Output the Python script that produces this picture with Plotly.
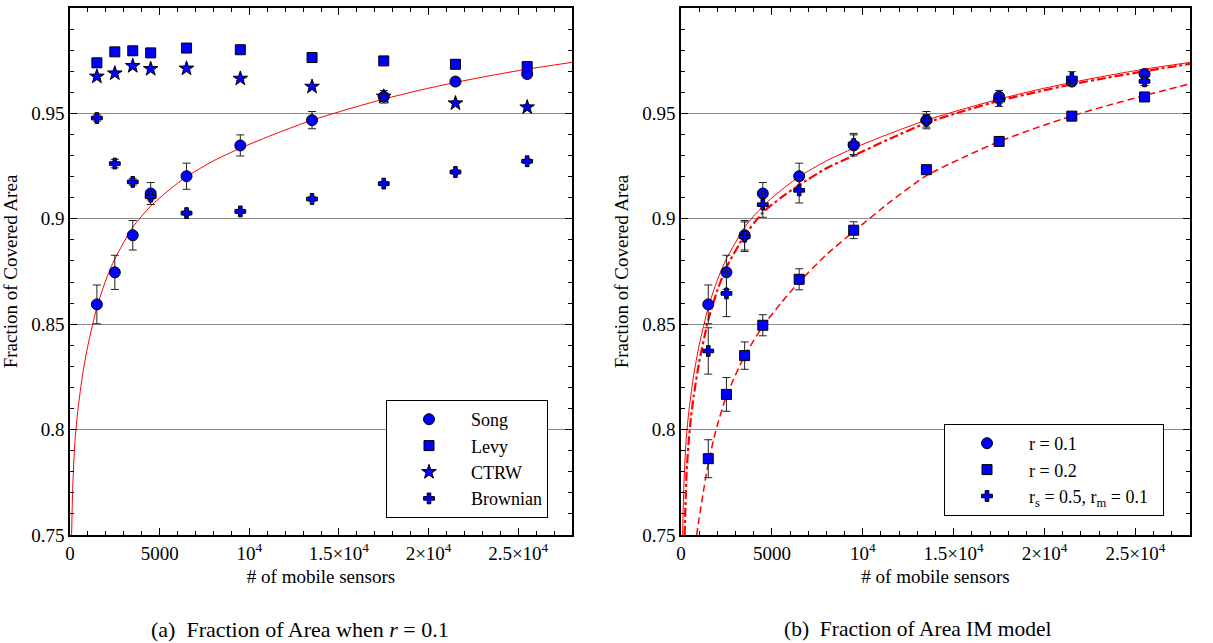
import plotly.graph_objects as go

# ---------------- data ----------------
sensors = [1500, 2500, 3500, 4500, 6500, 9500, 13500, 17500, 21500, 25500]

# panel (a)
song = [0.8594, 0.8746, 0.8922, 0.9120, 0.9202, 0.9348, 0.9468, 0.9579, 0.9651, 0.9687]
song_err = [0.0092, 0.0081, 0.0070, 0.0052, 0.0062, 0.0050, 0.0041, 0.0030, 0.0018, 0.0020]
levy = [0.9740, 0.9792, 0.9797, 0.9787, 0.9810, 0.9802, 0.9765, 0.9749, 0.9733, 0.9722]
levy_err = [0.0010, 0.0008, 0.0008, 0.0008, 0.0008, 0.0008, 0.0008, 0.0008, 0.0008, 0.0010]
ctrw = [0.9675, 0.9690, 0.9725, 0.9711, 0.9713, 0.9665, 0.9627, 0.9580, 0.9548, 0.9529]
ctrw_err = [0.0010, 0.0010, 0.0010, 0.0010, 0.0010, 0.0010, 0.0010, 0.0010, 0.0010, 0.0010]
brown = [0.9478, 0.9262, 0.9175, 0.9105, 0.9027, 0.9035, 0.9094, 0.9167, 0.9222, 0.9273]
brown_err = [0.0015, 0.0020, 0.0015, 0.0015, 0.0010, 0.0010, 0.0010, 0.0010, 0.0010, 0.0010]

# panel (b)
r01 = [0.8594, 0.8746, 0.8922, 0.9120, 0.9202, 0.9348, 0.9468, 0.9579, 0.9651, 0.9687]
r01_err = [0.0092, 0.0081, 0.0070, 0.0052, 0.0062, 0.0050, 0.0041, 0.0030, 0.0018, 0.0020]
r02 = [0.7862, 0.8167, 0.8351, 0.8495, 0.8713, 0.8946, 0.9233, 0.9367, 0.9487, 0.9578]
r02_err = [0.0090, 0.0080, 0.0065, 0.0050, 0.0050, 0.0040, 0.0020, 0.0012, 0.0010, 0.0010]
rsm = [0.8373, 0.8646, 0.8915, 0.9067, 0.9135, 0.9355, 0.9465, 0.9563, 0.9668, 0.9652]
rsm_err = [0.0110, 0.0110, 0.0070, 0.0060, 0.0060, 0.0050, 0.0030, 0.0030, 0.0030, 0.0020]

# model curves, points
fit_x = [90, 150, 280, 450, 700, 1000, 1500, 2000, 2500, 3500, 4500, 5500, 6500,
         8000, 9500, 11500, 13500, 15500, 17500, 19500, 21500, 23500, 25500, 28000]
fit_y = [0.750, 0.772, 0.795, 0.810, 0.826, 0.840, 0.858, 0.871, 0.881, 0.896, 0.906, 0.9135, 0.920,
         0.9275, 0.9335, 0.9405, 0.9468, 0.952, 0.9568, 0.961, 0.9647, 0.968, 0.971, 0.9742]

dd_x = [200, 300, 400, 550, 700, 1000, 1500, 2000, 2500, 3500, 4500, 5500, 6500,
        8000, 9500, 11500, 13500, 15500, 17500, 19500, 21500, 23500, 25500, 28000]
dd_y = [0.750, 0.778, 0.792, 0.806, 0.816, 0.832, 0.852, 0.866, 0.877, 0.892, 0.903, 0.910, 0.916,
        0.924, 0.930, 0.938, 0.9455, 0.951, 0.956, 0.960, 0.9638, 0.967, 0.970, 0.9735]

ds_x = [860, 1000, 1200, 1500, 1900, 2500, 3500, 4500, 5500, 6500, 8000, 9500,
        11500, 13500, 15500, 17500, 19500, 21500, 23500, 25500, 28000]
ds_y = [0.750, 0.758, 0.769, 0.784, 0.799, 0.816, 0.835, 0.849, 0.860, 0.870, 0.883, 0.894,
        0.908, 0.9205, 0.929, 0.9367, 0.943, 0.9488, 0.9538, 0.9585, 0.964]

x_tickvals = [0, 5000, 10000, 15000, 20000, 25000]
x_ticktext = ["0", "5000", "10<sup>4</sup>", "1.5×10<sup>4</sup>", "2×10<sup>4</sup>", "2.5×10<sup>4</sup>"]
y_tickvals = [0.75, 0.8, 0.85, 0.9, 0.95, 1.0]
y_ticktext = ["0.75", "0.8", "0.85", "0.9", "0.95", "1"]

legend_a = ["Song", "Levy", "CTRW", "Brownian"]
legend_b = ["r = 0.1", "r = 0.2", "r<sub>s</sub> = 0.5, r<sub>m</sub> = 0.1"]

# ---------------- styling ----------------
FONT = "Liberation Serif"
BLUE = "#0000ff"
W, H = 1213, 643
left_dom = [70 / W, 572 / W]
right_dom = [681 / W, 1190 / W]
y_dom = [(H - 535) / H, (H - 8) / H]
PAD = "\u00a0" * 2


def pts(x, y, err, name, symbol, size, xa, ya, legend):
    return go.Scatter(
        x=x, y=y, mode="markers", name=name, legend=legend,
        xaxis=xa, yaxis=ya,
        marker=dict(symbol=symbol, size=size, color=BLUE,
                    line=dict(color="black", width=1)),
        error_y=dict(type="data", array=err, visible=True, color="#222222",
                     thickness=1, width=4),
    )


def curve(x, y, dash, width, xa, ya):
    return go.Scatter(x=x, y=y, mode="lines", showlegend=False, hoverinfo="skip",
                      line=dict(color="#ff0000", width=width, dash=dash, shape="spline",
                                smoothing=0.6),
                      xaxis=xa, yaxis=ya)


fig = go.Figure()
# panel (a)
fig.add_trace(curve(fit_x, fit_y, "solid", 1, "x", "y"))
fig.add_trace(pts(sensors, song, song_err, legend_a[0], "circle", 11, "x", "y", "legend"))
fig.add_trace(pts(sensors, levy, levy_err, legend_a[1], "square", 10, "x", "y", "legend"))
fig.add_trace(pts(sensors, ctrw, ctrw_err, legend_a[2], "star", 11, "x", "y", "legend"))
fig.add_trace(pts(sensors, brown, brown_err, legend_a[3], "cross", 9, "x", "y", "legend"))
# panel (b)
fig.add_trace(curve(fit_x, fit_y, "solid", 1, "x2", "y2"))
fig.add_trace(curve(dd_x, dd_y, "dashdot", 2.2, "x2", "y2"))
fig.add_trace(curve(ds_x, ds_y, "7px,4px", 1.5, "x2", "y2"))
fig.add_trace(pts(sensors, r01, r01_err, legend_b[0], "circle", 11, "x2", "y2", "legend2"))
fig.add_trace(pts(sensors, r02, r02_err, legend_b[1], "square", 10, "x2", "y2", "legend2"))
fig.add_trace(pts(sensors, rsm, rsm_err, legend_b[2] + PAD, "cross", 9,
                  "x2", "y2", "legend2"))

tickfont = dict(family=FONT, size=19, color="black")
titlefont = dict(family=FONT, size=19, color="black")


def xaxis(domain, anchor):
    return dict(domain=domain, anchor=anchor, range=[0, 28000], automargin=False,
                tickmode="array", tickvals=x_tickvals, ticktext=x_ticktext,
                ticks="inside", ticklen=7, tickwidth=1, tickcolor="black",
                minor=dict(tickmode="linear", tick0=0, dtick=1000, ticks="inside",
                           ticklen=4, tickwidth=1, tickcolor="black", showgrid=False),
                showline=True, linecolor="black", linewidth=1.5, mirror="ticks",
                showgrid=False, zeroline=False, tickfont=tickfont,
                title=dict(text="# of mobile sensors", font=titlefont, standoff=7))


def yaxis(anchor):
    return dict(domain=y_dom, anchor=anchor, range=[0.75, 1.0], automargin=False,
                tickmode="array", tickvals=y_tickvals, ticktext=y_ticktext,
                ticks="inside", ticklen=7, tickwidth=1, tickcolor="black",
                minor=dict(tickmode="linear", tick0=0.75, dtick=0.01, ticks="inside",
                           ticklen=4, tickwidth=1, tickcolor="black", showgrid=False),
                showline=True, linecolor="black", linewidth=1.5, mirror="ticks",
                showgrid=True, gridcolor="#8c8c8c", gridwidth=1, zeroline=False,
                tickfont=tickfont,
                title=dict(text="Fraction of Covered Area", font=titlefont, standoff=9))


legend_common = dict(xanchor="left", yanchor="top", bgcolor="white",
                     bordercolor="black", borderwidth=1,
                     font=dict(family=FONT, size=18, color="black"),
                     itemwidth=74, tracegroupgap=0)

fig.update_layout(
    width=W, height=H,
    margin=dict(l=0, r=0, t=0, b=0),
    paper_bgcolor="white", plot_bgcolor="white",
    xaxis=xaxis(left_dom, "y"), yaxis=yaxis("x"),
    xaxis2=xaxis(right_dom, "y2"), yaxis2=yaxis("x2"),
    legend=dict(x=386 / W, y=1 - 400 / H, **legend_common),
    legend2=dict(x=944 / W, y=1 - 424 / H, **legend_common),
    annotations=[
        dict(text="(a)  Fraction of Area when <i>r</i> = 0.1", x=300 / W, y=1 - 629 / H,
             xref="paper", yref="paper", showarrow=False, xanchor="center", yanchor="middle",
             font=dict(family=FONT, size=22, color="black")),
        dict(text="(b)  Fraction of Area IM model", x=918 / W, y=1 - 629 / H,
             xref="paper", yref="paper", showarrow=False, xanchor="center", yanchor="middle",
             font=dict(family=FONT, size=21.5, color="black")),
    ],
    showlegend=True,
)

fig.write_html("out.html", config={"displayModeBar": False},
               post_script="document.body.style.margin='0';")
